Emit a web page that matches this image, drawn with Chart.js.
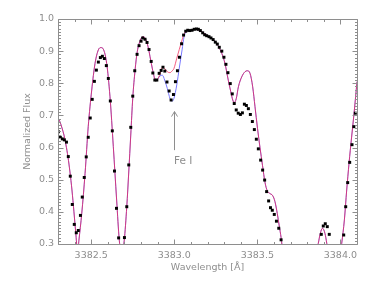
<!DOCTYPE html>
<html>
<head>
<meta charset="utf-8">
<script src="https://cdn.jsdelivr.net/npm/chart.js@4.4.0/dist/chart.umd.min.js"></script>
<style>
  html, body { margin: 0; padding: 0; background: #fff; }
  canvas { display: block; }
</style>
</head>
<body>
<canvas id="chart" width="374" height="281"></canvas>
<script>
// observed spectrum (squares)
const obsWave = [
  3382.302, 3382.314, 3382.326, 3382.338, 3382.351, 3382.362, 3382.374, 3382.386, 3382.398, 3382.410,
  3382.422, 3382.435, 3382.446, 3382.458, 3382.470, 3382.482, 3382.494, 3382.506, 3382.519, 3382.531,
  3382.543, 3382.555, 3382.567, 3382.579, 3382.591, 3382.603, 3382.615, 3382.627, 3382.640, 3382.652,
  3382.665, 3382.700, 3382.714, 3382.726, 3382.738, 3382.750, 3382.762, 3382.776, 3382.788, 3382.800,
  3382.810, 3382.824, 3382.836, 3382.848, 3382.861, 3382.871, 3382.883, 3382.895, 3382.909, 3382.921,
  3382.932, 3382.943, 3382.956, 3382.969, 3382.981, 3382.995, 3383.007, 3383.019, 3383.031, 3383.044,
  3383.056, 3383.069, 3383.081, 3383.093, 3383.107, 3383.120, 3383.133, 3383.145, 3383.157, 3383.171,
  3383.183, 3383.195, 3383.209, 3383.221, 3383.234, 3383.247, 3383.259, 3383.271, 3383.286, 3383.299,
  3383.311, 3383.323, 3383.337, 3383.349, 3383.361, 3383.373, 3383.385, 3383.398, 3383.410, 3383.422,
  3383.434, 3383.446, 3383.458, 3383.470, 3383.482, 3383.494, 3383.506, 3383.520, 3383.532, 3383.544,
  3383.556, 3383.568, 3383.579, 3383.590, 3383.602, 3383.615, 3383.629, 3383.643, 3383.885, 3383.897,
  3383.909, 3383.921, 3383.933, 3384.020, 3384.032, 3384.044, 3384.056, 3384.070, 3384.081, 3384.090
];
const obsFlux = [
  0.649, 0.632, 0.627, 0.624, 0.617, 0.572, 0.511, 0.423, 0.361, 0.335,
  0.342, 0.389, 0.446, 0.507, 0.571, 0.632, 0.692, 0.750, 0.806, 0.841,
  0.866, 0.880, 0.884, 0.877, 0.855, 0.815, 0.745, 0.652, 0.527, 0.411,
  0.319, 0.320, 0.416, 0.546, 0.663, 0.760, 0.839, 0.890, 0.917, 0.931,
  0.941, 0.937, 0.927, 0.905, 0.868, 0.832, 0.810, 0.810, 0.831, 0.840,
  0.850, 0.838, 0.804, 0.776, 0.748, 0.765, 0.805, 0.839, 0.881, 0.923,
  0.950, 0.962, 0.965, 0.964, 0.965, 0.968, 0.969, 0.968, 0.964, 0.957,
  0.951, 0.948, 0.945, 0.941, 0.936, 0.928, 0.922, 0.912, 0.900, 0.881,
  0.859, 0.833, 0.799, 0.767, 0.737, 0.717, 0.707, 0.703, 0.708, 0.735,
  0.731, 0.721, 0.703, 0.681, 0.656, 0.626, 0.596, 0.561, 0.530, 0.499,
  0.463, 0.434, 0.413, 0.405, 0.392, 0.371, 0.349, 0.313, 0.330, 0.356,
  0.363, 0.354, 0.330, 0.328, 0.416, 0.491, 0.554, 0.609, 0.665, 0.707
];

// synthetic spectra: without Fe I (red) and with Fe I (blue)
const modelWave = [
  3382.300, 3382.312, 3382.324, 3382.336, 3382.348, 3382.360, 3382.372, 3382.384, 3382.396, 3382.408,
  3382.418, 3382.426, 3382.443, 3382.463, 3382.482, 3382.503, 3382.523, 3382.543, 3382.559, 3382.573,
  3382.593, 3382.613, 3382.633, 3382.653, 3382.669, 3382.684, 3382.699, 3382.714, 3382.726, 3382.738,
  3382.750, 3382.764, 3382.777, 3382.794, 3382.810, 3382.826, 3382.842, 3382.858, 3382.874, 3382.886,
  3382.898, 3382.914, 3382.929, 3382.942, 3382.958, 3382.974, 3382.986, 3382.998, 3383.015, 3383.030,
  3383.047, 3383.059, 3383.074, 3383.095, 3383.125, 3383.155, 3383.195, 3383.235, 3383.255, 3383.286,
  3383.305, 3383.325, 3383.340, 3383.352, 3383.361, 3383.373, 3383.386, 3383.406, 3383.426, 3383.440,
  3383.456, 3383.472, 3383.486, 3383.501, 3383.516, 3383.531, 3383.546, 3383.560, 3383.573, 3383.593,
  3383.606, 3383.620, 3383.632, 3383.643, 3383.655, 3383.697, 3383.817, 3383.853, 3383.867, 3383.879,
  3383.892, 3383.907, 3383.918, 3383.932, 3383.968, 3383.995, 3384.008, 3384.024, 3384.038, 3384.052,
  3384.067, 3384.082, 3384.100
];
const modelFlux = [
  0.692, 0.680, 0.661, 0.639, 0.608, 0.571, 0.524, 0.468, 0.400, 0.328,
  0.275, 0.312, 0.395, 0.520, 0.665, 0.779, 0.862, 0.904, 0.911, 0.906,
  0.862, 0.758, 0.603, 0.437, 0.312, 0.265, 0.312, 0.416, 0.524, 0.639,
  0.754, 0.841, 0.898, 0.932, 0.945, 0.939, 0.914, 0.872, 0.831, 0.810,
  0.812, 0.829, 0.850, 0.846, 0.836, 0.833, 0.838, 0.846, 0.878, 0.905,
  0.935, 0.953, 0.962, 0.964, 0.968, 0.964, 0.950, 0.935, 0.924, 0.893,
  0.862, 0.810, 0.774, 0.748, 0.740, 0.752, 0.789, 0.820, 0.836, 0.839,
  0.831, 0.789, 0.727, 0.660, 0.600, 0.545, 0.492, 0.465, 0.458, 0.450,
  0.432, 0.395, 0.356, 0.320, 0.270, 0.200, 0.200, 0.270, 0.302, 0.333,
  0.349, 0.333, 0.302, 0.250, 0.200, 0.250, 0.302, 0.375, 0.468, 0.551,
  0.630, 0.705, 0.805
];
const modelFeFlux = [
  0.692, 0.680, 0.661, 0.639, 0.608, 0.571, 0.524, 0.468, 0.400, 0.328,
  0.275, 0.312, 0.395, 0.520, 0.665, 0.779, 0.862, 0.904, 0.911, 0.906,
  0.862, 0.758, 0.603, 0.437, 0.312, 0.265, 0.312, 0.416, 0.524, 0.639,
  0.754, 0.841, 0.898, 0.932, 0.945, 0.939, 0.914, 0.872, 0.831, 0.810,
  0.812, 0.823, 0.825, 0.810, 0.784, 0.753, 0.744, 0.753, 0.795, 0.847,
  0.904, 0.945, 0.962, 0.964, 0.968, 0.964, 0.950, 0.935, 0.924, 0.893,
  0.862, 0.810, 0.774, 0.748, 0.740, 0.752, 0.789, 0.820, 0.836, 0.839,
  0.831, 0.789, 0.727, 0.660, 0.600, 0.545, 0.492, 0.465, 0.458, 0.450,
  0.432, 0.395, 0.356, 0.320, 0.270, 0.200, 0.200, 0.270, 0.302, 0.333,
  0.349, 0.333, 0.302, 0.250, 0.200, 0.250, 0.302, 0.375, 0.468, 0.551,
  0.630, 0.705, 0.805
];

const xTicks = [3382.5, 3383.0, 3383.5, 3384.0];
const yTicks = [0.3, 0.4, 0.5, 0.6, 0.7, 0.8, 0.9, 1.0];
const xRange = [3382.3, 3384.1];
const yRange = [0.3, 1.0];

// Fe I marker
const lineLabel = 'Fe I';
const lineWave = 3383.0;
const arrowTip = 0.712;
const arrowTail = 0.592;
const labelFlux = 0.549;

const gray = '#8e8e8e';
Chart.defaults.font.family = '"DejaVu Sans", sans-serif';
Chart.defaults.font.size = 9.5;
Chart.defaults.color = gray;

const frameTicks = {
  id: 'frameTicks',
  afterDraw(chart) {
    const {ctx, chartArea: a, scales: {x, y}} = chart;
    const L = Math.round(a.left) + 0.5, R = Math.round(a.right) + 0.5;
    const T = Math.round(a.top) + 0.5, B = Math.round(a.bottom) + 0.5;
    ctx.save();
    ctx.strokeStyle = gray;
    ctx.lineWidth = 1;
    ctx.beginPath();
    ctx.rect(L, T, R - L, B - T);
    // x ticks bottom/top, minor every 0.1
    for (let i = 0; i <= 18; i++) {
      const v = xRange[0] + i * 0.1;
      const major = Math.abs(v * 2 - Math.round(v * 2)) < 1e-6;
      const len = major ? 5 : 2.5;
      const px = Math.round(x.getPixelForValue(v)) + 0.5;
      ctx.moveTo(px, B); ctx.lineTo(px, B - len);
      ctx.moveTo(px, T); ctx.lineTo(px, T + len);
    }
    // y ticks left/right, minor every 0.01
    for (let i = 0; i <= 70; i++) {
      const v = yRange[0] + i * 0.01;
      const len = i % 10 === 0 ? 5 : 2.5;
      const py = Math.round(y.getPixelForValue(v)) + 0.5;
      ctx.moveTo(L, py); ctx.lineTo(L + len, py);
      ctx.moveTo(R, py); ctx.lineTo(R - len, py);
    }
    ctx.stroke();

    // arrow + label
    const ax = Math.round(x.getPixelForValue(lineWave)) + 0.5;
    const tip = y.getPixelForValue(arrowTip);
    const tail = y.getPixelForValue(arrowTail);
    ctx.beginPath();
    ctx.moveTo(ax, tail); ctx.lineTo(ax, tip);
    ctx.moveTo(ax - 3, tip + 5); ctx.lineTo(ax, tip); ctx.lineTo(ax + 3, tip + 5);
    ctx.stroke();
    ctx.fillStyle = gray;
    ctx.font = '10.5px "DejaVu Sans", sans-serif';
    ctx.textAlign = 'left';
    ctx.textBaseline = 'alphabetic';
    ctx.fillText(lineLabel, ax - 0.5, y.getPixelForValue(labelFlux));
    ctx.restore();
  }
};

new Chart(document.getElementById('chart'), {
  type: 'scatter',
  data: {
    datasets: [
      {
        data: obsWave.map((w, i) => ({x: w, y: obsFlux[i]})),
        pointStyle: 'rect',
        pointRadius: 2.1,
        pointBorderWidth: 0,
        backgroundColor: '#000',
        borderColor: '#000'
      },
      {
        data: modelWave.map((w, i) => ({x: w, y: modelFlux[i]})),
        showLine: true,
        borderColor: 'rgba(240,30,80,0.72)',
        borderWidth: 1,
        pointRadius: 0,
        cubicInterpolationMode: 'monotone'
      },
      {
        data: modelWave.map((w, i) => ({x: w, y: modelFeFlux[i]})),
        showLine: true,
        borderColor: '#7878ff',
        borderWidth: 1,
        pointRadius: 0,
        cubicInterpolationMode: 'monotone'
      }
    ]
  },
  options: {
    responsive: false,
    animation: false,
    devicePixelRatio: 1,
    layout: { padding: { top: 19, right: 17, left: 0, bottom: 0 } },
    scales: {
      x: {
        type: 'linear',
        min: xRange[0], max: xRange[1],
        afterFit: (s) => { s.height = 37; },
        afterBuildTicks: (s) => { s.ticks = xTicks.map(v => ({value: v})); },
        grid: { display: false, drawTicks: false },
        border: { display: false },
        ticks: { padding: 6, maxRotation: 0, callback: (v) => v.toFixed(1) },
        title: { display: true, text: 'Wavelength [Å]', padding: { top: 0, bottom: 8 } }
      },
      y: {
        type: 'linear',
        min: yRange[0], max: yRange[1],
        afterFit: (s) => { s.width = 58; },
        afterBuildTicks: (s) => { s.ticks = yTicks.map(v => ({value: v})); },
        grid: { display: false, drawTicks: false },
        border: { display: false },
        ticks: { padding: 4, callback: (v) => v.toFixed(1) },
        title: { display: true, text: 'Normalized Flux', padding: { top: 22, bottom: 0 } }
      }
    },
    plugins: {
      legend: { display: false },
      tooltip: { enabled: false }
    }
  },
  plugins: [frameTicks]
});
</script>
</body>
</html>
